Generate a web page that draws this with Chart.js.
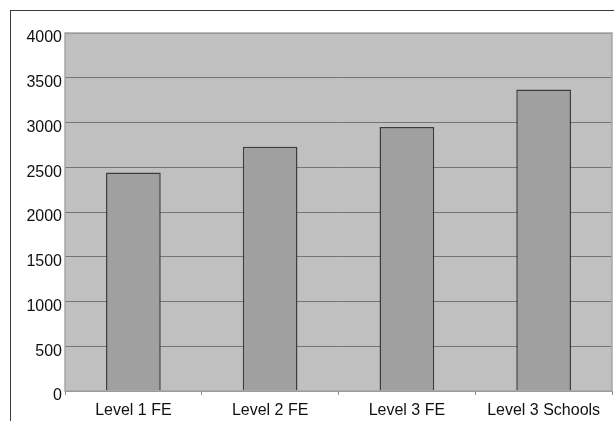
<!DOCTYPE html>
<html>
<head>
<meta charset="utf-8">
<script src="https://cdn.jsdelivr.net/npm/chart.js@4/dist/chart.umd.min.js"></script>
<style>
  html, body { margin: 0; padding: 0; background: #fff; }
  #wrap { position: relative; width: 614px; height: 421px; overflow: hidden; }
  #frame { position: absolute; left: 10px; top: 10px; width: 620px; height: 430px;
           border-top: 1px solid #3a3a3a; border-left: 1px solid #3a3a3a; }
  canvas { position: absolute; left: 0; top: 0; }
</style>
</head>
<body>
<div id="wrap">
  <div id="frame"></div>
  <canvas id="chart" width="614" height="421"></canvas>
</div>
<script>
const categories = ['Level 1 FE', 'Level 2 FE', 'Level 3 FE', 'Level 3 Schools'];
const values = [2440, 2730, 2950, 3370];
const yMin = 0;
const yMax = 4000;
const yStep = 500;

// grey plot background with a light frame around the plotting area
const plotBackground = {
  id: 'plotBackground',
  beforeDraw(chart) {
    const { ctx, chartArea: a } = chart;
    ctx.save();
    ctx.fillStyle = '#c0c0c0';
    ctx.fillRect(a.left, a.top, a.right - a.left, a.bottom - a.top);
    ctx.restore();
  },
  afterDatasetsDraw(chart) {
    const { ctx, chartArea: a } = chart;
    ctx.save();
    ctx.strokeStyle = '#a6a6a6';
    ctx.lineWidth = 1.5;
    ctx.strokeRect(a.left, a.top, a.right - a.left, a.bottom - a.top);
    ctx.restore();
  }
};

const font = { family: '"Liberation Sans", Arial, sans-serif', size: 16 };

new Chart(document.getElementById('chart'), {
  type: 'bar',
  data: {
    labels: categories,
    datasets: [{
      data: values,
      backgroundColor: '#a0a0a0',
      borderColor: '#3c3c3c',
      borderWidth: 1.5,
      categoryPercentage: 1,
      barPercentage: 0.4
    }]
  },
  options: {
    responsive: false,
    animation: false,
    layout: { padding: { left: 0, top: 33, right: 2, bottom: 0 } },
    plugins: { legend: { display: false }, tooltip: { enabled: false } },
    scales: {
      x: {
        grid: { display: true, drawOnChartArea: false, drawTicks: true, tickLength: 4,
                color: '#8a8a8a', offset: true },
        border: { display: false },
        ticks: { color: '#111', font, padding: 6, maxRotation: 0 },
        afterFit(scale) { scale.height = 30; }
      },
      y: {
        min: yMin,
        max: yMax,
        grid: { color: '#757575', lineWidth: 1, drawTicks: false },
        border: { display: false },
        ticks: { stepSize: yStep, color: '#111', font, padding: 3, labelOffset: 5,
                 callback: (v) => String(v) },
        afterFit(scale) { scale.width = 65; }
      }
    }
  },
  plugins: [plotBackground]
});
</script>
</body>
</html>
